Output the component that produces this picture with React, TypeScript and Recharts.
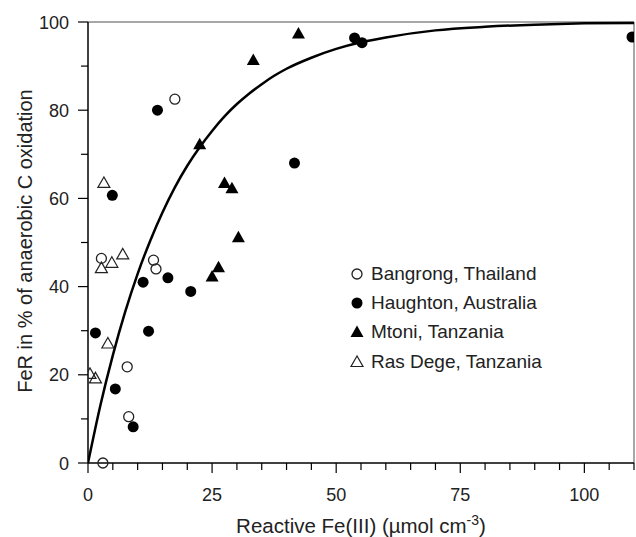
import { ComposedChart, Line, Scatter, XAxis, YAxis, ReferenceLine, Legend } from 'recharts';

const FONT = '"Liberation Sans", Arial, sans-serif';
const INK = '#222';

// readings: x = reactive Fe(III), y = FeR %
const bangrong = [
  { x: 3, y: 0 },
  { x: 17.5, y: 82.5 },
  { x: 2.7, y: 46.4 },
  { x: 13.2, y: 46 },
  { x: 13.7, y: 44 },
  { x: 7.9, y: 21.8 },
  { x: 8.2, y: 10.5 },
];

const haughton = [
  { x: 14, y: 80 },
  { x: 4.9, y: 60.7 },
  { x: 11.1, y: 41 },
  { x: 16.1, y: 42 },
  { x: 20.7, y: 38.9 },
  { x: 1.5, y: 29.5 },
  { x: 12.2, y: 29.9 },
  { x: 5.5, y: 16.8 },
  { x: 9.1, y: 8.2 },
  { x: 41.6, y: 68 },
  { x: 53.7, y: 96.4 },
  { x: 55.2, y: 95.3 },
  { x: 109.6, y: 96.6 },
];

const mtoni = [
  { x: 42.4, y: 97.4 },
  { x: 33.3, y: 91.4 },
  { x: 22.5, y: 72.3 },
  { x: 27.5, y: 63.5 },
  { x: 29, y: 62.3 },
  { x: 30.3, y: 51.2 },
  { x: 26.3, y: 44.4 },
  { x: 25, y: 42.3 },
];

const rasDege = [
  { x: 3.2, y: 63.5 },
  { x: 2.7, y: 44.2 },
  { x: 4.8, y: 45.4 },
  { x: 7, y: 47.3 },
  { x: 4, y: 27.1 },
  { x: 0.4, y: 20.2 },
  { x: 1.5, y: 19.2 },
];

// fitted curve, points
const curveX = [0, 2.5, 5, 7.5, 10, 12.5, 15, 17.5, 20, 22.5, 25, 27.5, 30, 32.5, 35, 37.5, 40, 45, 50, 55, 60, 70, 80, 90, 100, 110];
const curveY = [0, 13.1, 24.4, 34.3, 42.9, 50.3, 56.8, 62.5, 67.4, 71.6, 75.3, 78.6, 81.4, 83.8, 85.9, 87.8, 89.4, 91.9, 93.9, 95.4, 96.5, 98.1, 98.9, 99.4, 99.7, 99.8];
const curve = curveX.map((x, i) => ({ x, y: curveY[i] }));

const xTicks = [0, 5, 10, 15, 20, 25, 30, 35, 40, 45, 50, 55, 60, 65, 70, 75, 80, 85, 90, 95, 100, 105, 110];
const yTicks = [0, 10, 20, 30, 40, 50, 60, 70, 80, 90, 100];

const openCircle = ({ cx, cy }: any) => <circle cx={cx} cy={cy} r={5} fill="none" stroke={INK} strokeWidth={1.3} />;
const fillCircle = ({ cx, cy }: any) => <circle cx={cx} cy={cy} r={5.5} fill="#000" />;
const fillTriangle = ({ cx, cy }: any) => (
  <polygon points={`${cx},${cy - 6.5} ${cx - 6.5},${cy + 5} ${cx + 6.5},${cy + 5}`} fill="#000" />
);
const openTriangle = ({ cx, cy }: any) => (
  <polygon points={`${cx},${cy - 6} ${cx - 6},${cy + 4.5} ${cx + 6},${cy + 4.5}`} fill="none" stroke={INK} strokeWidth={1.2} />
);

const legendItems = [
  { name: 'Bangrong, Thailand', shape: openCircle },
  { name: 'Haughton, Australia', shape: fillCircle },
  { name: 'Mtoni, Tanzania', shape: fillTriangle },
  { name: 'Ras Dege, Tanzania', shape: openTriangle },
];

const XTick = ({ x, y, payload }: any) => {
  const major = payload.value % 25 === 0;
  return (
    <g>
      <line x1={x} x2={x} y1={y} y2={y + (major ? 10 : 7)} stroke="#000" strokeWidth={1.2} />
      {major && (
        <text x={x} y={y + 38} textAnchor="middle" fontFamily={FONT} fontSize={18} fill={INK}>
          {payload.value}
        </text>
      )}
    </g>
  );
};

const YTick = ({ x, y, payload }: any) => {
  const major = payload.value % 20 === 0;
  return (
    <g>
      <line x1={x - (major ? 10 : 7)} x2={x} y1={y} y2={y} stroke="#000" strokeWidth={1.2} />
      {major && (
        <text x={x - 19} y={y + 6.5} textAnchor="end" fontFamily={FONT} fontSize={18} fill={INK}>
          {payload.value}
        </text>
      )}
    </g>
  );
};

const LegendBox = () => (
  <div style={{ fontFamily: FONT, fontSize: 19, color: INK }}>
    {legendItems.map((it) => (
      <div key={it.name} style={{ display: 'flex', alignItems: 'center', height: 29.4 }}>
        <svg width={16} height={16} style={{ overflow: 'visible' }}>
          {it.shape({ cx: 8, cy: 8 })}
        </svg>
        <span style={{ marginLeft: 6, whiteSpace: 'nowrap' }}>{it.name}</span>
      </div>
    ))}
  </div>
);

export default function App() {
  return (
    <div style={{ position: 'absolute', left: 0, top: 0, background: '#fff' }}>
      <ComposedChart width={636} height={537} margin={{ top: 22, right: 2, left: 0, bottom: 0 }}>
        <XAxis
          dataKey="x"
          type="number"
          domain={[0, 110]}
          ticks={xTicks}
          interval={0}
          tickSize={0}
          tickMargin={0}
          tick={XTick}
          tickLine={false}
          axisLine={{ stroke: '#000', strokeWidth: 1.5 }}
          height={74}
          allowDataOverflow
          label={() => (
            <text x={361} y={533} textAnchor="middle" fontFamily={FONT} fontSize={20.5} fill={INK}>
              Reactive Fe(III) (µmol cm
              <tspan dy={-8} fontSize={14}>-3</tspan>
              <tspan dy={8}>)</tspan>
            </text>
          )}
        />
        <YAxis
          dataKey="y"
          type="number"
          domain={[0, 100]}
          ticks={yTicks}
          interval={0}
          tickSize={0}
          tickMargin={0}
          tick={YTick}
          tickLine={false}
          axisLine={{ stroke: '#000', strokeWidth: 1.5 }}
          width={88}
          label={() => (
            <text
              x={25}
              y={241}
              transform="rotate(-90 25 241)"
              textAnchor="middle"
              dominantBaseline="central"
              fontFamily={FONT}
              fontSize={20}
              fill={INK}
            >
              FeR in % of anaerobic C oxidation
            </text>
          )}
        />
        <ReferenceLine y={100} stroke="#8a8a8a" strokeWidth={1.5} />
        <ReferenceLine x={110} stroke="#8a8a8a" strokeWidth={1.5} />
        <Line data={curve} dataKey="y" type="monotone" stroke="#000" strokeWidth={2.5} dot={false} isAnimationActive={false} />
        <Scatter data={bangrong} shape={openCircle} isAnimationActive={false} />
        <Scatter data={haughton} shape={fillCircle} isAnimationActive={false} />
        <Scatter data={mtoni} shape={fillTriangle} isAnimationActive={false} />
        <Scatter data={rasDege} shape={openTriangle} isAnimationActive={false} />
        <Legend
          layout="vertical"
          align="center"
          verticalAlign="middle"
          content={LegendBox}
          wrapperStyle={{ left: 349, top: 259, width: 'auto' }}
        />
      </ComposedChart>
    </div>
  );
}
